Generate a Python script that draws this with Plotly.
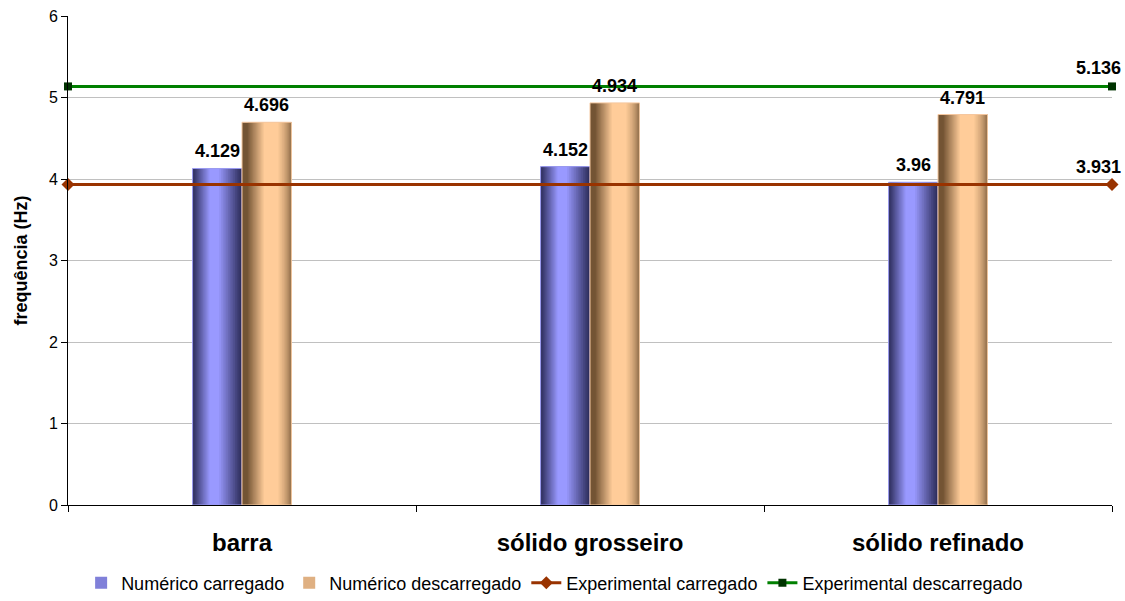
import plotly.graph_objects as go

categories = ["barra", "sólido grosseiro", "sólido refinado"]
num_carregado = [4.129, 4.152, 3.96]
num_descarregado = [4.696, 4.934, 4.791]
exp_carregado = 3.931
exp_descarregado = 5.136

FONT = "Liberation Sans, Arial, sans-serif"
BAR_W = 0.142
N_LAYERS = 14


def mix(c0, c1, t):
    a = [int(c0[i:i + 2], 16) for i in (1, 3, 5)]
    b = [int(c1[i:i + 2], 16) for i in (1, 3, 5)]
    return "#" + "".join(f"{round(x + (y - x) * t):02x}" for x, y in zip(a, b))


def bands(dark, light, l0, pl, pr, rpow):
    out = []
    for k in range(N_LAYERS):
        t = k / (N_LAYERS - 1)
        left = l0 * (1 - t) + pl * t if k else 0.0
        right = 1 - (1 - pr) * t ** rpow
        out.append((left, right, mix(dark, light, t)))
    return out


blue_bands = bands("#2e2e5c", "#9999ff", 0.0, 0.34, 0.54, 1.0)
orange_bands = bands("#735434", "#ffcc99", 0.09, 0.44, 0.74, 2.0)

fig = go.Figure()


def add_cylinder(values, offset, layers, name, edge):
    legend_layer = int(len(layers) * 0.75)
    for i, (l, r, c) in enumerate(layers):
        fig.add_trace(go.Bar(
            x=categories, y=values,
            width=BAR_W * (r - l), offset=offset + BAR_W * l,
            marker=dict(color=c, line=dict(width=0)),
            name=name, showlegend=(i == legend_layer), legendgroup=name,
            hoverinfo="skip",
        ))
    # thin light outline around the whole bar
    fig.add_trace(go.Bar(
        x=categories, y=values, width=BAR_W, offset=offset,
        marker=dict(color="rgba(0,0,0,0)", line=dict(width=1, color=edge)),
        name=name, showlegend=False, legendgroup=name,
    ))


add_cylinder(num_carregado, -BAR_W, blue_bands, "Numérico carregado", "#9a9af0")
add_cylinder(num_descarregado, 0.0, orange_bands, "Numérico descarregado", "#f5c8a0")

# experimental reference lines across the whole plot width
fig.add_trace(go.Scatter(
    x=[-0.5, len(categories) - 0.5], y=[exp_carregado, exp_carregado], xaxis="x2",
    mode="lines+markers", name="Experimental carregado",
    line=dict(color="#993300", width=3),
    marker=dict(symbol="diamond", size=10, color="#993300"),
    cliponaxis=False,
))
fig.add_trace(go.Scatter(
    x=[-0.5, len(categories) - 0.5], y=[exp_descarregado, exp_descarregado], xaxis="x2",
    mode="lines+markers", name="Experimental descarregado",
    line=dict(color="#008000", width=3),
    marker=dict(symbol="square", size=8, color="#003300"),
    cliponaxis=False,
))

annotations = []
for i, v in enumerate(num_carregado):
    annotations.append(dict(x=i - BAR_W / 2, y=v, text=f"<b>{v:g}</b>"))
for i, v in enumerate(num_descarregado):
    annotations.append(dict(x=i + BAR_W / 2, y=v, text=f"<b>{v:g}</b>"))
for a in annotations:
    a.update(xref="x2", yref="y", showarrow=False, yanchor="middle", yshift=17,
             font=dict(family=FONT, size=18, color="black"))
for v in (exp_descarregado, exp_carregado):
    annotations.append(dict(
        x=len(categories) - 0.5, y=v, xref="x2", yref="y", text=f"<b>{v:g}</b>",
        showarrow=False, xanchor="center", yanchor="middle", xshift=-14, yshift=18,
        font=dict(family=FONT, size=18, color="black"),
    ))

fig.update_layout(
    width=1125, height=601,
    margin=dict(l=68, r=13, t=16, b=96, autoexpand=False),
    paper_bgcolor="white", plot_bgcolor="white",
    barmode="overlay",
    font=dict(family=FONT, size=16, color="black"),
    annotations=annotations,
    xaxis=dict(
        type="category", tickson="boundaries", ticks="outside", ticklen=6,
        tickcolor="black", showline=True, linecolor="black", linewidth=1,
        showgrid=False, tickfont=dict(family=FONT, size=24),
        ticklabelstandoff=16, automargin=False,
        tickvals=categories, ticktext=[f"<b>{c}</b>" for c in categories],
    ),
    xaxis2=dict(overlaying="x", range=[-0.5, len(categories) - 0.5], visible=False),
    yaxis=dict(
        range=[0, 6], dtick=1, ticks="outside", ticklen=6, tickcolor="black",
        showline=True, linecolor="black", linewidth=1,
        showgrid=True, gridcolor="#c0c0c0", gridwidth=1, zeroline=False,
        tickfont=dict(family=FONT, size=16), automargin=False,
        title=dict(text="<b>frequência (Hz)</b>", font=dict(family=FONT, size=18), standoff=16),
    ),
    legend=dict(
        orientation="h", xref="container", yref="container",
        x=0.493, xanchor="center", y=0.03, yanchor="middle",
        font=dict(family=FONT, size=18), traceorder="normal",
    ),
)

fig.write_html("out.html")
